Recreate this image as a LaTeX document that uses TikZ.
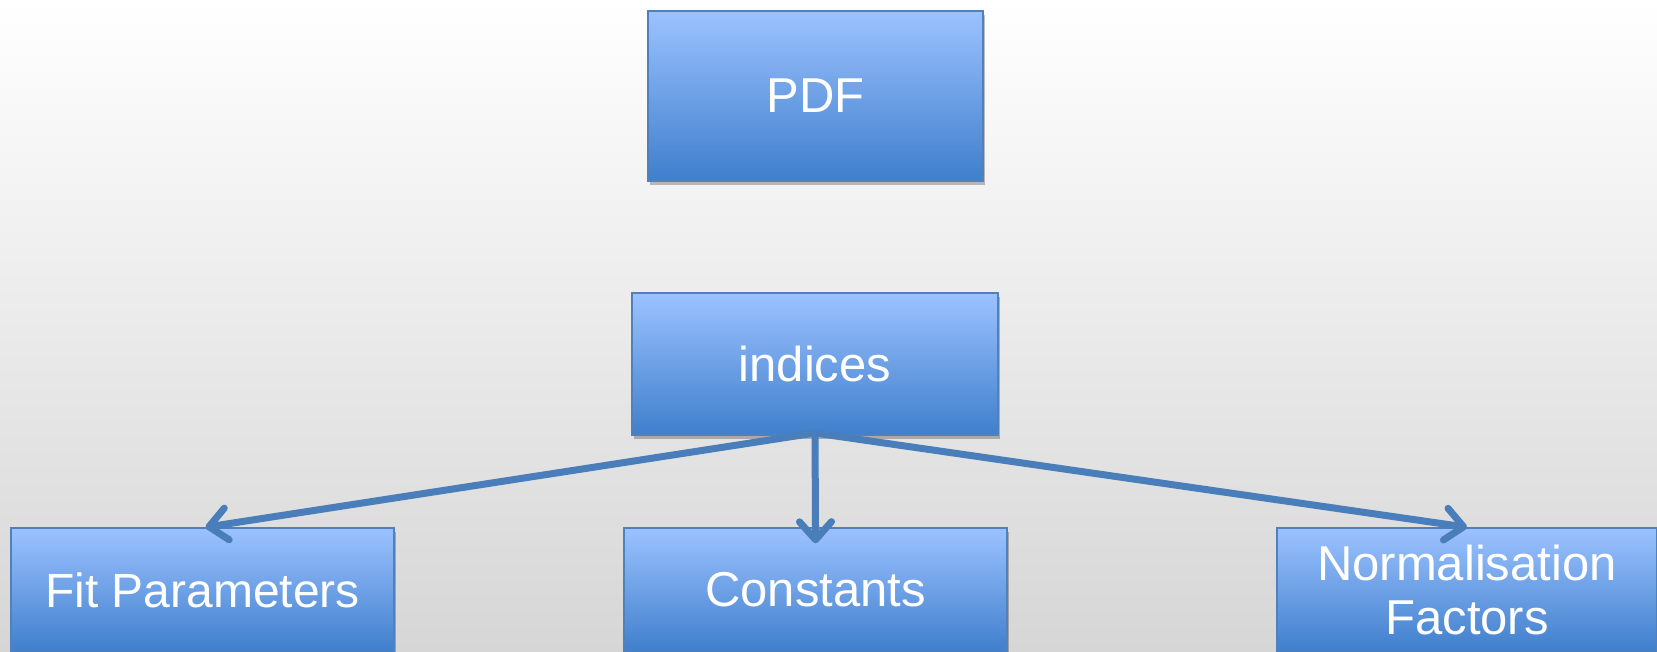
\documentclass[tikz,border=0pt]{standalone}
\usepackage{fontspec}
\setmainfont{Liberation Sans}
\usetikzlibrary{arrows.meta,shadows}
\definecolor{boxtop}{HTML}{9CC2FF}
\definecolor{boxbot}{HTML}{3F7FCC}
\definecolor{boxline}{HTML}{4F81BD}
\definecolor{arrowc}{HTML}{4A7EBB}
\definecolor{bgbot}{HTML}{D6D6D6}
\tikzset{
  box/.style={rectangle, draw=boxline, line width=1.5pt, top color=boxtop, bottom color=boxbot,
    text=white, align=center, inner sep=0pt,
    font=\fontsize{49}{54}\selectfont,
    drop shadow={shadow xshift=2pt, shadow yshift=-4pt, opacity=0.25, fill=black}},
  conn/.style={draw=arrowc, line width=7pt, line cap=round,
    -{Straight Barb[length=18pt,width=32pt,line width=7pt,round]}}
}
\begin{document}
\begin{tikzpicture}[x=1pt,y=-1pt]
\shade[top color=white, bottom color=bgbot] (0,0) rectangle (1657,651);
\useasboundingbox (0,0) rectangle (1657,651);
\node[box, minimum width=335pt, minimum height=170pt] (pdf) at (815.5,96) {PDF};
\node[box, minimum width=366pt, minimum height=142pt] (ind) at (815,364) {indices};
\node[box, minimum width=383pt, minimum height=124pt, font=\fontsize{48}{54}\selectfont] (fit) at (202.5,590) {Fit Parameters};
\node[box, minimum width=383pt, minimum height=124pt] (con) at (815.5,590) {Constants};
\node[box, minimum width=380pt, minimum height=124pt] (nor) at (1467,590) {Normalisation\\Factors};
\coordinate (src) at (815,433);
\draw[conn] (src) -- ([xshift=3pt]fit.north);
\draw[conn, shorten >=-16pt] (src) -- (con.north);
\draw[conn] (src) -- (nor.north);
\end{tikzpicture}
\end{document}
